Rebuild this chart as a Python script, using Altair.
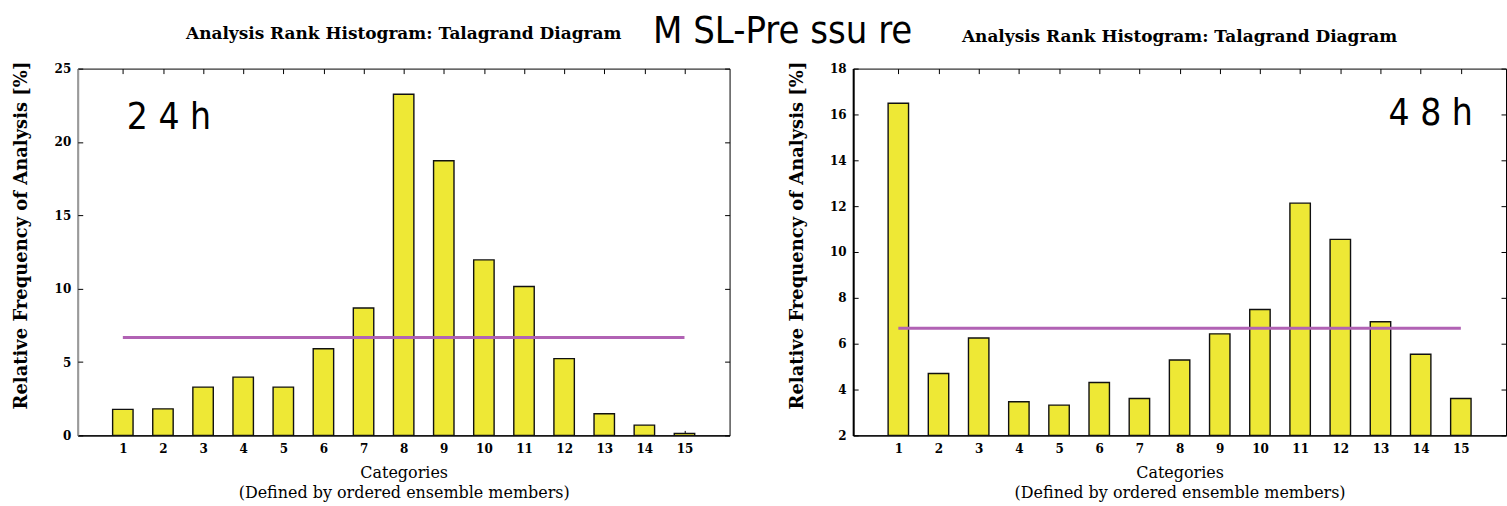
import altair as alt
import pandas as pd

# ---- data ----
categories = list(range(1, 16))
freq_24h = [1.77, 1.81, 3.29, 3.97, 3.29, 5.91, 8.68, 23.25, 18.72, 11.96, 10.15, 5.23, 1.47, 0.70, 0.14]
freq_48h = [16.49, 4.70, 6.25, 3.47, 3.32, 4.31, 3.61, 5.29, 6.43, 7.49, 12.13, 10.55, 6.96, 5.54, 3.61]
uniform_level = [6.67]
uniform_start = [1]
uniform_end = [15]
yticks_24h = [0, 5, 10, 15, 20, 25]
yticks_48h = [2, 4, 6, 8, 10, 12, 14, 16, 18]
lead_labels = ["2 4 h", "4 8 h"]
lead_label_x = [2.15, 14.25]
lead_label_y = [21.6, 16.0]

panel_title = "Analysis Rank Histogram: Talagrand Diagram"
main_title = "M SL-Pre ssu re"
y_title = "Relative Frequency of Analysis [%]"
x_title = ["Categories", "(Defined by ordered ensemble members)"]

SERIF = "DejaVu Serif"
NARROW = "Liberation Sans Narrow, DejaVu Sans Condensed, Roboto Condensed, sans-serif"
YELLOW = "#EEE835"
PURPLE = "#B162B4"


def tick_axis(orient, values):
    return alt.Axis(orient=orient, values=values, offset=-5, tickSize=5, ticks=True,
                    tickColor="black", tickWidth=1, labels=False, domain=False,
                    grid=False, title=None)


def panel(values, ymin, ymax, yticks, idx, width, height, title_offset, left_color):
    xs = alt.Scale(domain=[0, 16], nice=False, zero=False)
    ys = alt.Scale(domain=[ymin, ymax], nice=False, zero=False)

    bars_df = pd.DataFrame({"cat": categories, "freq": values})
    bars = alt.Chart(bars_df).mark_bar(size=20.5, fill=YELLOW, stroke="#111111", strokeWidth=1.4).encode(
        x=alt.X("cat:Q", scale=xs, axis=alt.Axis(
            orient="bottom", values=categories, title=x_title, ticks=False, tickSize=0,
            domain=True, domainColor="black", domainWidth=1.2, grid=False,
            labelPadding=8, labelFont=SERIF, labelFontSize=12, labelFontWeight="bold",
            labelColor="black", titleFont=SERIF, titleFontSize=16, titleFontWeight="normal",
            titleColor="black", titleY=29, titleBaseline="top", titleLineHeight=20)),
        y=alt.Y("freq:Q", scale=ys, axis=alt.Axis(
            orient="left", values=yticks, title=y_title, ticks=False, tickSize=0,
            domain=True, domainColor=left_color, domainWidth=2, grid=False,
            labelPadding=7, labelFont=SERIF, labelFontSize=12, labelFontWeight="bold",
            labelColor="black", titleFont=SERIF, titleFontSize=18, titleFontWeight="bold",
            titleColor="black", titleX=-56, titleY=167,
            titleBaseline="middle", titleAlign="center")),
        y2=alt.datum(ymin),
    )

    ref_df = pd.DataFrame({"start": uniform_start, "end": uniform_end, "level": uniform_level})
    rule = alt.Chart(ref_df).mark_rule(color=PURPLE, strokeWidth=3).encode(
        x=alt.X("start:Q", scale=xs, axis=tick_axis("bottom", categories)),
        x2="end:Q",
        y=alt.Y("level:Q", scale=ys, axis=tick_axis("left", yticks)),
    )

    txt_df = pd.DataFrame({"lx": [lead_label_x[idx]], "ly": [lead_label_y[idx]],
                           "label": [lead_labels[idx]]})
    txt = alt.Chart(txt_df).mark_text(font=NARROW, fontSize=37, align="center",
                                       baseline="middle", color="black").encode(
        x=alt.X("lx:Q", scale=xs, axis=tick_axis("top", categories)),
        y=alt.Y("ly:Q", scale=ys, axis=tick_axis("right", yticks)),
        text="label:N",
    )

    return alt.layer(bars, rule, txt).resolve_axis(x="independent", y="independent").properties(
        width=width, height=height,
        title=alt.TitleParams(panel_title, font=SERIF, fontSize=17, fontWeight="bold",
                              color="black", anchor="middle", baseline="alphabetic",
                              offset=title_offset),
    )


left = panel(freq_24h, 0, 25, yticks_24h, 0, 654, 368, 5, "#9a9a9a")
right = panel(freq_48h, 2, 18, yticks_48h, 1, 655, 368, 2, "black")

chart = alt.hconcat(left, right, spacing=57).properties(
    title=alt.TitleParams(main_title, font=NARROW, fontSize=38, fontWeight="normal",
                          color="black", anchor="middle", baseline="alphabetic",
                          offset=0, dx=23, dy=56),
    padding={"left": 12, "top": 11, "right": 0, "bottom": 0},
    background="white",
).configure_view(stroke="black", strokeWidth=1)

chart.save("out.html", embed_options={"renderer": "svg", "actions": False})
